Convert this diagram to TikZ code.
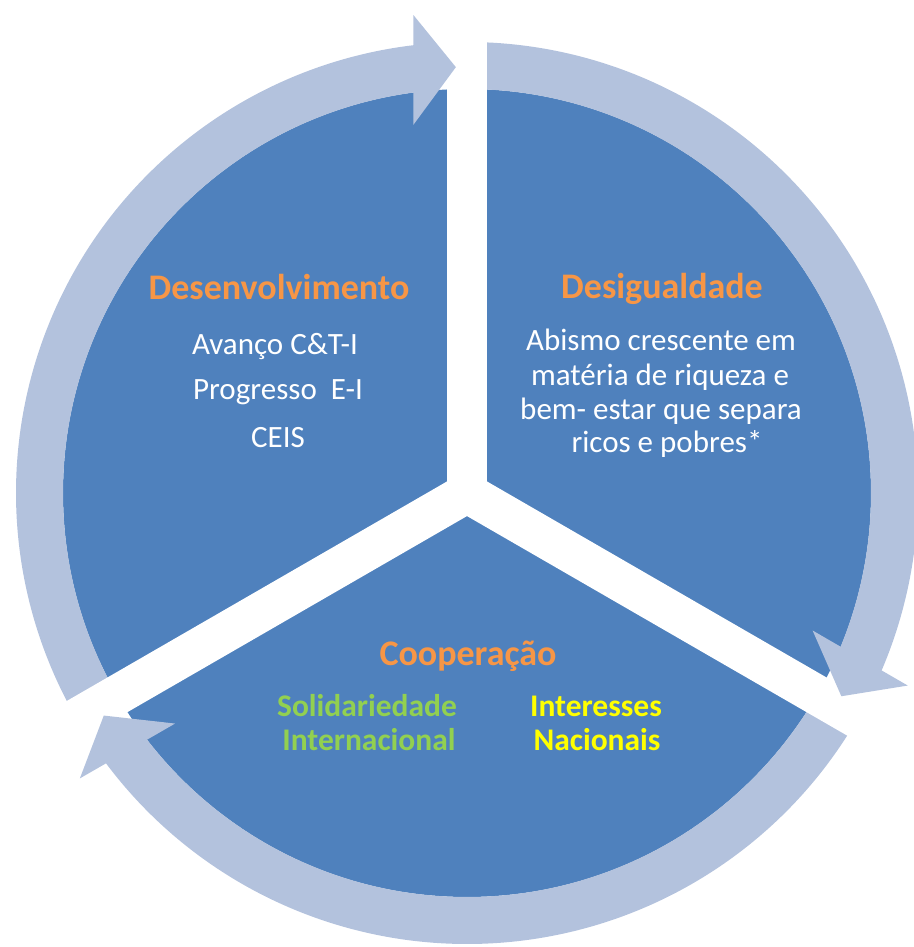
\documentclass[tikz,border=0pt]{standalone}
\usepackage{fontspec}
\setmainfont{Carlito}
\definecolor{sectorblue}{RGB}{79,129,189}
\definecolor{ringblue}{RGB}{179,194,221}
\definecolor{titleorange}{RGB}{247,150,70}
\definecolor{solidgreen}{RGB}{146,208,80}
\definecolor{natyellow}{RGB}{255,255,0}
\pgfdeclarelayer{edgelayer}
\pgfdeclarelayer{nodelayer}
\pgfsetlayers{edgelayer,nodelayer,main}
\tikzstyle{sector}=[fill=sectorblue]
\tikzstyle{ring}=[fill=ringblue]
\tikzstyle{gap}=[fill=white]
\tikzstyle{title}=[anchor=base,inner sep=0pt,text=titleorange,font=\fontsize{36}{42}\selectfont\bfseries]
\tikzstyle{body}=[anchor=base,inner sep=0pt,text=white,font=\fontsize{31}{36}\selectfont]
\tikzstyle{green_label}=[anchor=base,inner sep=0pt,text=solidgreen,font=\fontsize{31.5}{36}\selectfont\bfseries]
\tikzstyle{yellow_label}=[anchor=base,inner sep=0pt,text=natyellow,font=\fontsize{31.5}{36}\selectfont\bfseries]

\begin{document}
\begin{tikzpicture}[x=1pt,y=1pt]
	\useasboundingbox (0,0) rectangle (913,947);
	\begin{pgfonlayer}{edgelayer}
		\begin{scope}[shift={(467,454)}]
			\fill [style=sector] (0,0) circle [radius=404];
			% arrow bodies: tail at one gap, head at the next (clockwise)
			\foreach \g/\h in {210/90, 90/-30, -30/-150} {
				\fill [style=ring] (\g:451) arc [start angle=\g, end angle=\h+5.5, radius=451]
					-- (\h+5.5:404) arc [start angle=\h+5.5, end angle=\g, radius=404] -- cycle;
			}
			% white gaps
			\foreach \a in {90,210,330}
				\fill [style=gap, rotate=\a] (0,-20) rectangle (470,20);
			% arrow heads
			\foreach \h in {90,-30,-150}
				\fill [style=ring] (\h+8.3:372) -- (\h+1.5:426) -- (\h+6.4:481) -- cycle;
		\end{scope}
	\end{pgfonlayer}
	\begin{pgfonlayer}{nodelayer}
		\node [style=title] (0) at (279, 647) {Desenvolvimento};
		\node [style=body] (1) at (275, 592) {Avanço C\&T-I};
		\node [style=body] (2) at (278, 547) {Progresso~ E-I};
		\node [style=body] (3) at (278, 499) {CEIS};
		\node [style=title] (4) at (662, 648) {Desigualdade};
		\node [style=body] (5) at (661, 596) {Abismo crescente em};
		\node [style=body] (6) at (660, 561) {matéria de riqueza e};
		\node [style=body] (7) at (661, 527) {bem- estar que separa};
		\node [style=body] (8) at (667, 494) {ricos e pobres*};
		\node [style=title] (9) at (468, 281) {Cooperação};
		\node [style=green_label] (10) at (367, 230) {Solidariedade};
		\node [style=green_label] (11) at (369, 196) {Internacional};
		\node [style=yellow_label] (12) at (596, 230) {Interesses};
		\node [style=yellow_label] (13) at (597, 196) {Nacionais};
	\end{pgfonlayer}
\end{tikzpicture}
\end{document}
